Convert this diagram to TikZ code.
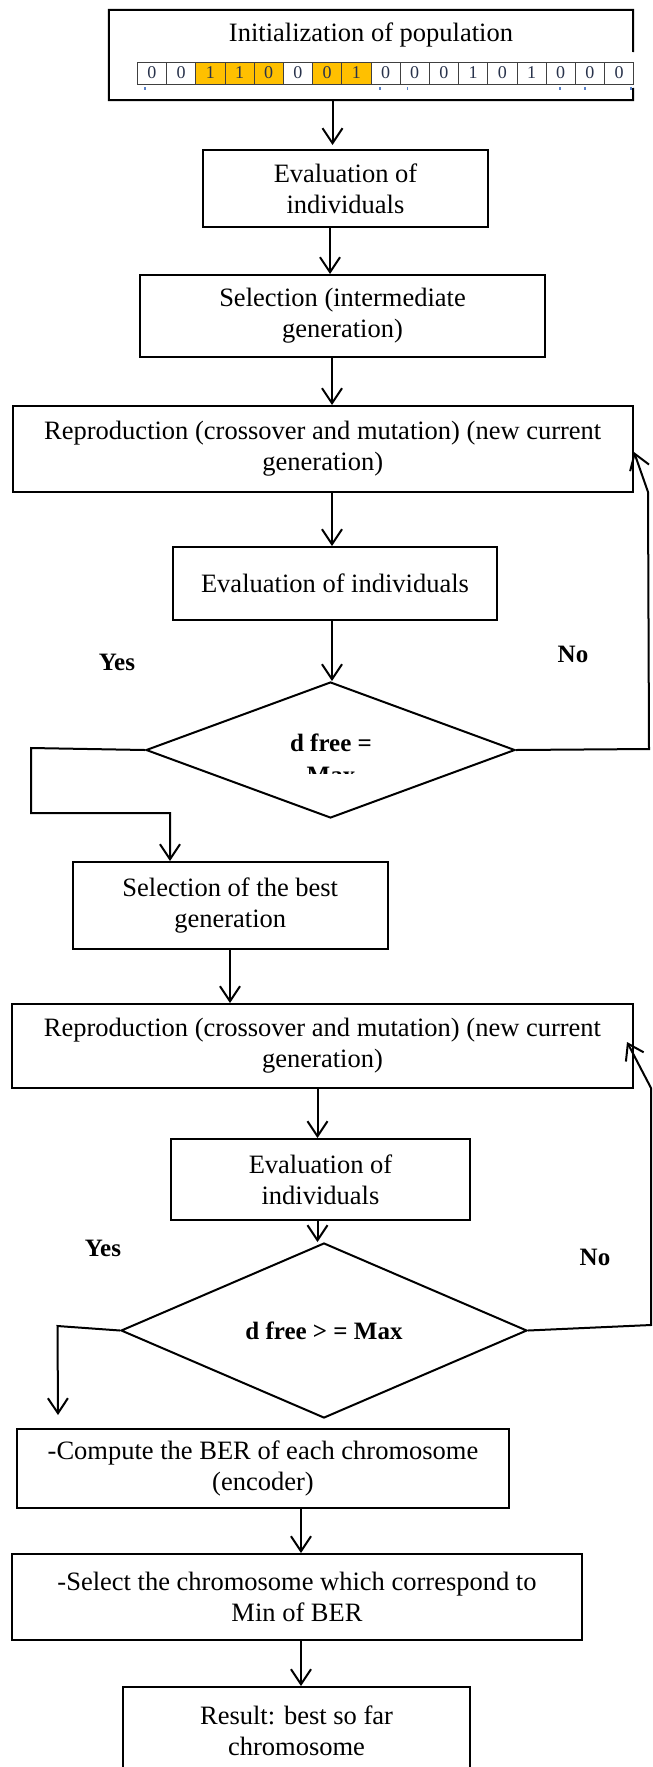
\documentclass[tikz,border=0pt]{standalone}
\usepackage{fontspec}
\setmainfont{Liberation Serif}
\usetikzlibrary{arrows.meta,shapes.geometric,calc}
\definecolor{gold}{HTML}{FFC000}
\definecolor{digit}{RGB}{40,50,75}
\definecolor{tickblue}{RGB}{90,130,200}
\begin{document}
\begin{tikzpicture}[x=1pt,y=-1pt,
  box/.style={draw, line width=2pt, rectangle, inner sep=0pt, align=center, font=\fontsize{26.5}{31}\selectfont},
  txt/.style={inner sep=0pt, align=center, font=\fontsize{26.5}{31}\selectfont},
  arr/.style={line width=2pt, -{Straight Barb[length=15pt,width=20pt]}},
  ln/.style={line width=2pt},
  lbl/.style={font=\fontsize{25}{25}\selectfont\bfseries, inner sep=0pt},
  dia/.style={diamond, draw, line width=2pt, inner sep=0pt, font=\fontsize{25}{25}\selectfont\bfseries},
  cell/.style={draw=black!75, line width=0.8pt, minimum width=29.2pt, minimum height=22pt, inner sep=0pt, font=\fontsize{18}{18}\selectfont, text=digit},
]
\useasboundingbox (0,0) rectangle (653,1767);
\clip (0,0) rectangle (653,1767);
\fill[white] (0,0) rectangle (653,1767);

% --- initialization box
\node[draw=none, minimum width=524pt, minimum height=90pt, inner sep=0pt] (init) at (371,55) {};
\node[txt] (inittxt) at (371,35) {Initialization of population};
\draw[ln] (633,88) -- (init.south east) -- (init.south west) -- (init.north west) -- (init.north east) -- (633,52);
\foreach \i/\d/\c in {1/0/white,2/0/white,3/1/gold,4/1/gold,5/0/gold,6/0/white,7/0/gold,8/1/gold,9/0/white,10/0/white,11/0/white,12/1/white,13/0/white,14/1/white,15/0/white,16/0/white,17/0/white}
  \node[cell, fill=\c] (b\i) at ({137.3+29.2*(\i-0.5)},73) {\d};
\foreach \x in {145,380,407.5,560,585,631}
  \fill[tickblue] (\x-0.6,87) rectangle (\x+0.6,89.5);

% --- first loop
\node[box, minimum width=285pt, minimum height=77pt] (eval1) at (345.5,188.5) {Evaluation of\\individuals};
\node[box, minimum width=405pt, minimum height=82pt] (sel1) at (342.5,316) {Selection (intermediate\\generation)};
\node[box, minimum width=620.5pt, minimum height=86pt] (rep1) at (322.75,449) {Reproduction (crossover and mutation) (new current\\generation)};
\node[box, minimum width=324pt, minimum height=73pt] (eval2) at (335,583.5) {Evaluation of individuals};
\node[dia, minimum width=369pt, minimum height=136pt] (dia1) at (330.5,750) {};
\node[lbl, anchor=base] (d1a) at (331,751) {d free =};
\begin{scope}
  \clip (200,740) rectangle (460,773);
  \node[lbl, anchor=base] (d1b) at (331,783.5) {Max};
\end{scope}
\node[lbl] (yes1) at (117,662) {Yes};
\node[lbl] (no1) at (573,654) {No};

\draw[arr] (init.south -| 332.5,0) -- (332.5,145);
\draw[arr] (eval1.south -| 330,0) -- (sel1.north -| 330,0);
\draw[arr] (sel1.south -| 332,0) -- (rep1.north -| 332,0);
\draw[arr] (rep1.south -| 332,0) -- (eval2.north -| 332,0);
\draw[arr] (eval2.south -| 332,0) -- (dia1.north -| 332,0);
\coordinate (r1a) at (649,749);
\coordinate (r1b) at (648,492);
\draw[arr] (dia1.east) -- (r1a) -- (r1b) -- (rep1.east |- 0,452);
\coordinate (y1a) at (31,748);
\coordinate (y1b) at (31,813);
\coordinate (y1c) at (170,813);

% --- second loop
\node[box, minimum width=314.5pt, minimum height=87pt] (selbest) at (230.25,905.5) {Selection of the best\\generation};
\draw[arr] (dia1.west) -- (y1a) -- (y1b) -- (y1c) -- (selbest.north -| y1c);
\node[box, minimum width=621pt, minimum height=84pt] (rep2) at (322.5,1046) {Reproduction (crossover and mutation) (new current\\generation)};
\node[box, minimum width=299pt, minimum height=81pt] (eval3) at (320.5,1179.5) {Evaluation of\\individuals};
\node[dia, minimum width=406pt, minimum height=133pt] (dia2) at (324,1330.5) {\raisebox{-2.5pt}{d free > = Max}};
\node[lbl] (yes2) at (103,1248) {Yes};
\node[lbl] (no2) at (595,1257) {No};
\draw[arr] (selbest.south -| 230,0) -- (rep2.north -| 230,0);
\draw[arr] (rep2.south -| 317.5,0) -- (eval3.north -| 317.5,0);
\draw[arr] (eval3.south -| 317.5,0) -- (dia2.north -| 317.5,0);
\coordinate (r2a) at (651,1325);
\coordinate (r2b) at (651,1088);
\coordinate (r2t) at (627,1042);
\draw[arr] (dia2.east) -- (r2a) -- (r2b) -- (r2t);
\coordinate (y2a) at (57.5,1326);
\coordinate (y2t) at (58,1415);
\draw[arr] (dia2.west) -- (y2a) -- (y2t);

% --- final steps
\node[box, minimum width=492pt, minimum height=79pt] (compute) at (263,1468.5) {-Compute the BER of each chromosome\\(encoder)};
\node[box, minimum width=570pt, minimum height=86pt] (select) at (297,1597) {-Select the chromosome which correspond to\\Min of BER};
\node[box, minimum width=347pt, minimum height=113pt] (result) at (296.5,1743.5) {};
\node[txt] (resulttxt) at (296.5,1731) {Result: best so far\\chromosome};
\draw[arr] (compute.south -| 301,0) -- (select.north -| 301,0);
\draw[arr] (select.south -| 301,0) -- (result.north -| 301,0);
\end{tikzpicture}
\end{document}
